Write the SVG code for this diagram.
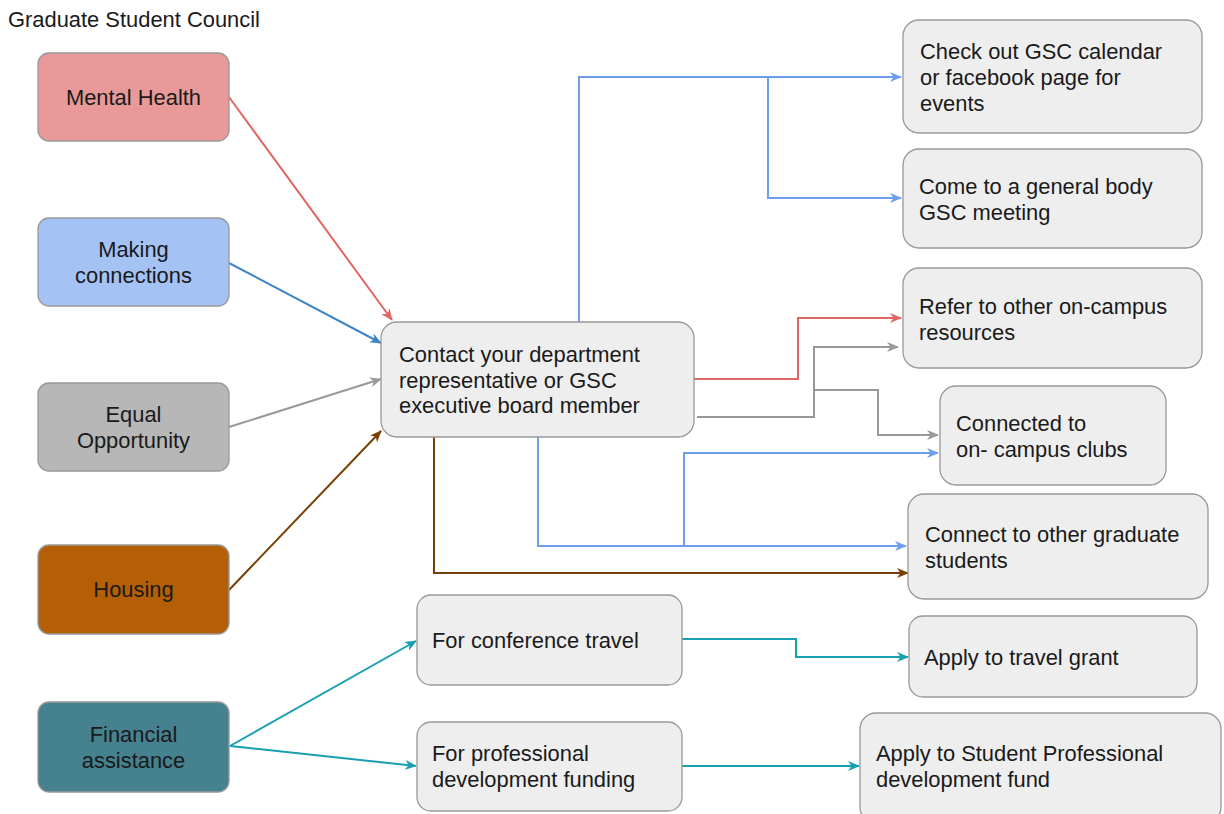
<svg xmlns="http://www.w3.org/2000/svg" width="1224" height="814" viewBox="0 0 1224 814">
<style>
text{font-family:"Liberation Sans",Arial,sans-serif;font-size:21.9px;fill:#1a1a1a}
.c{text-anchor:middle}
.box{stroke:#999;stroke-width:1.3}
.g{fill:#eeeeee}
.ln{fill:none;stroke-width:2}
</style>
<defs>
<marker id="aR" viewBox="0 0 12 10" refX="11" refY="5" markerWidth="12" markerHeight="10" markerUnits="userSpaceOnUse" orient="auto"><path d="M0,0 L12,5 L0,10 L3.5,5 Z" fill="#e06666"/></marker>
<marker id="aB" viewBox="0 0 12 10" refX="11" refY="5" markerWidth="12" markerHeight="10" markerUnits="userSpaceOnUse" orient="auto"><path d="M0,0 L12,5 L0,10 L3.5,5 Z" fill="#3d85c6"/></marker>
<marker id="aG" viewBox="0 0 12 10" refX="11" refY="5" markerWidth="12" markerHeight="10" markerUnits="userSpaceOnUse" orient="auto"><path d="M0,0 L12,5 L0,10 L3.5,5 Z" fill="#999999"/></marker>
<marker id="aN" viewBox="0 0 12 10" refX="11" refY="5" markerWidth="12" markerHeight="10" markerUnits="userSpaceOnUse" orient="auto"><path d="M0,0 L12,5 L0,10 L3.5,5 Z" fill="#783f04"/></marker>
<marker id="aL" viewBox="0 0 12 10" refX="11" refY="5" markerWidth="12" markerHeight="10" markerUnits="userSpaceOnUse" orient="auto"><path d="M0,0 L12,5 L0,10 L3.5,5 Z" fill="#6d9eeb"/></marker>
<marker id="aT" viewBox="0 0 12 10" refX="11" refY="5" markerWidth="12" markerHeight="10" markerUnits="userSpaceOnUse" orient="auto"><path d="M0,0 L12,5 L0,10 L3.5,5 Z" fill="#18a0b0"/></marker>
</defs>
<rect width="1224" height="814" fill="#ffffff"/>
<text x="8" y="27">Graduate Student Council</text>

<g id="connectors">
<path class="ln" stroke="#e06666" d="M229,97 L392,320" marker-end="url(#aR)"/>
<path class="ln" stroke="#3d85c6" d="M229,263 L381,343" marker-end="url(#aB)"/>
<path class="ln" stroke="#999999" d="M229,427 L381,379" marker-end="url(#aG)"/>
<path class="ln" stroke="#783f04" d="M229,590 L381,431" marker-end="url(#aN)"/>
<path class="ln" stroke="#6d9eeb" d="M579,322 L579,77 L901,77" marker-end="url(#aL)"/>
<path class="ln" stroke="#6d9eeb" d="M768,77 L768,198 L901,198" marker-end="url(#aL)"/>
<path class="ln" stroke="#e06666" d="M694,379 L798,379 L798,318 L901,318" marker-end="url(#aR)"/>
<path class="ln" stroke="#999999" d="M697,417 L814,417 L814,347 L898,347" marker-end="url(#aG)"/>
<path class="ln" stroke="#999999" d="M814,390 L878,390 L878,435 L938,435" marker-end="url(#aG)"/>
<path class="ln" stroke="#6d9eeb" d="M538,437 L538,546 L906,546" marker-end="url(#aL)"/>
<path class="ln" stroke="#6d9eeb" d="M684,546 L684,453 L938,453" marker-end="url(#aL)"/>
<path class="ln" stroke="#783f04" d="M434,437 L434,573 L908,573" marker-end="url(#aN)"/>
<path class="ln" stroke="#18a0b0" d="M230,746 L416,641" marker-end="url(#aT)"/>
<path class="ln" stroke="#18a0b0" d="M230,746 L416,766" marker-end="url(#aT)"/>
<path class="ln" stroke="#18a0b0" d="M682,639 L796,639 L796,657 L908,657" marker-end="url(#aT)"/>
<path class="ln" stroke="#18a0b0" d="M682,766 L859,766" marker-end="url(#aT)"/>
</g>

<g id="mental-health">
<rect class="box" x="38" y="53" width="191" height="88" rx="11" fill="#ea9999"/>
<text class="c" x="133.5" y="105">Mental Health</text>
</g>
<g id="making-connections">
<rect class="box" x="38" y="218" width="191" height="88" rx="11" fill="#a4c2f4"/>
<text class="c" x="133.5" y="257">Making</text>
<text class="c" x="133.5" y="283">connections</text>
</g>
<g id="equal-opportunity">
<rect class="box" x="38" y="383" width="191" height="88" rx="11" fill="#b7b7b7"/>
<text class="c" x="133.5" y="422">Equal</text>
<text class="c" x="133.5" y="448">Opportunity</text>
</g>
<g id="housing">
<rect class="box" x="38" y="545" width="191" height="89" rx="11" fill="#b45f06"/>
<text class="c" x="133.5" y="597">Housing</text>
</g>
<g id="financial-assistance">
<rect class="box" x="38" y="702" width="191" height="90" rx="11" fill="#45818e"/>
<text class="c" x="133.5" y="742">Financial</text>
<text class="c" x="133.5" y="768">assistance</text>
</g>

<g id="contact">
<rect class="box g" x="381" y="322" width="313" height="115" rx="16"/>
<text x="399" y="362">Contact your department</text>
<text x="399" y="387.5">representative or GSC</text>
<text x="399" y="413">executive board member</text>
</g>

<g id="calendar">
<rect class="box g" x="903" y="20" width="299" height="113" rx="16"/>
<text x="920" y="59">Check out GSC calendar</text>
<text x="920" y="85">or facebook page for</text>
<text x="920" y="111">events</text>
</g>
<g id="general-body">
<rect class="box g" x="903" y="149" width="299" height="99" rx="16"/>
<text x="919" y="194">Come to a general body</text>
<text x="919" y="220">GSC meeting</text>
</g>
<g id="refer">
<rect class="box g" x="903" y="268" width="299" height="100" rx="16"/>
<text x="919" y="314">Refer to other on-campus</text>
<text x="919" y="340">resources</text>
</g>
<g id="clubs">
<rect class="box g" x="940" y="386" width="226" height="99" rx="16"/>
<text x="956" y="431">Connected to</text>
<text x="956" y="457">on- campus clubs</text>
</g>
<g id="grad-students">
<rect class="box g" x="908" y="494" width="300" height="105" rx="16"/>
<text x="925" y="542">Connect to other graduate</text>
<text x="925" y="568">students</text>
</g>
<g id="conference">
<rect class="box g" x="417" y="595" width="265" height="90" rx="14"/>
<text x="432" y="648">For conference travel</text>
</g>
<g id="professional">
<rect class="box g" x="417" y="722" width="265" height="89" rx="14"/>
<text x="432" y="761">For professional</text>
<text x="432" y="787">development funding</text>
</g>
<g id="travel-grant">
<rect class="box g" x="909" y="616" width="288" height="81" rx="14"/>
<text x="924" y="665">Apply to travel grant</text>
</g>
<g id="spd-fund">
<rect class="box g" x="860" y="713" width="361" height="110" rx="16"/>
<text x="876" y="761">Apply to Student Professional</text>
<text x="876" y="787">development fund</text>
</g>
</svg>
